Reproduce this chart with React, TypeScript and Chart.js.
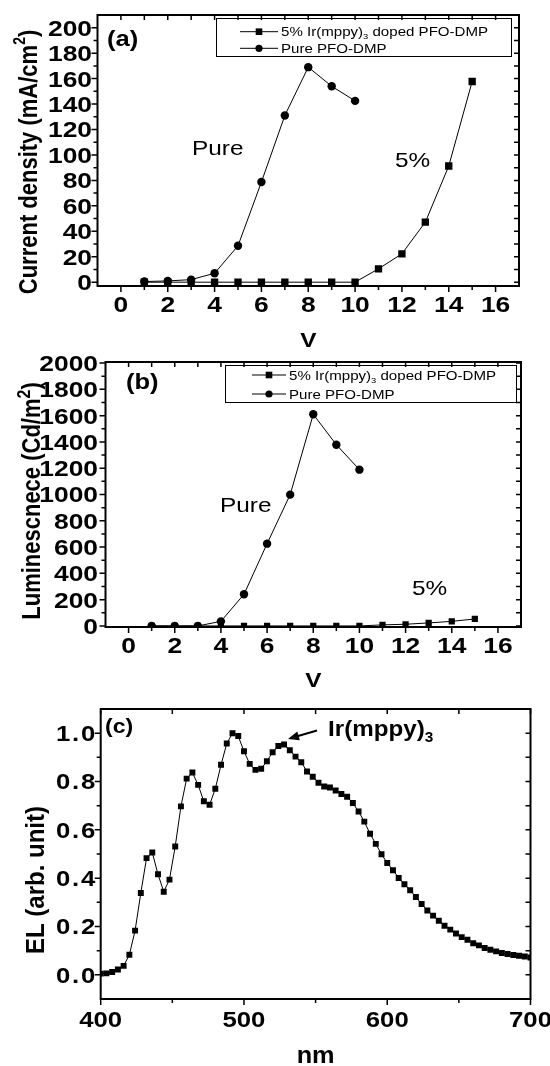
import { useEffect, useRef } from "react";
import { Chart, registerables } from "chart.js";

Chart.register(...registerables);

const FONT = "'Liberation Sans', Arial, Helvetica, sans-serif";

// ---------- data ----------
const dopedVoltage = [1, 2, 3, 4, 5, 6, 7, 8, 9, 10, 11, 12, 13, 14, 15];
const pureVoltage = [1, 2, 3, 4, 5, 6, 7, 8, 9, 10];
const dopedCurrent = [0, 0, 0, 0, 0, 0, 0, 0, 0, 0, 10.5, 22.3, 47.2, 91.3, 157.7];
const pureCurrent = [0.5, 1, 2, 7, 28.6, 78.7, 131, 169, 154, 142.5];
const dopedLuminance = [0, 0, 0, 0, 0, 0, 0, 0, 0, 0, 8, 13, 23, 35, 53];
const pureLuminance = [0, 0, 0, 35, 241, 626, 999, 1610, 1379, 1189];

const wavelength = [
  400, 404, 408, 412, 416, 420, 424, 428, 432, 436, 440, 444, 448, 452, 456, 460,
  464, 468, 472, 476, 480, 484, 488, 492, 496, 500, 504, 508, 512, 516, 520, 524,
  528, 532, 536, 540, 544, 548, 552, 556, 560, 564, 568, 572, 576, 580, 584, 588,
  592, 596, 600, 604, 608, 612, 616, 620, 624, 628, 632, 636, 640, 644, 648, 652,
  656, 660, 664, 668, 672, 676, 680, 684, 688, 692, 696, 700,
];
const elIntensity = [
  0.005, 0.006, 0.012, 0.022, 0.037, 0.083, 0.183, 0.339, 0.483, 0.506, 0.416, 0.344,
  0.394, 0.531, 0.697, 0.812, 0.837, 0.786, 0.718, 0.704, 0.77, 0.869, 0.957, 1.0,
  0.988, 0.925, 0.873, 0.848, 0.853, 0.884, 0.921, 0.947, 0.953, 0.929, 0.903, 0.88,
  0.841, 0.82, 0.795, 0.779, 0.775, 0.763, 0.748, 0.737, 0.711, 0.676, 0.634, 0.584,
  0.542, 0.499, 0.463, 0.433, 0.401, 0.375, 0.35, 0.322, 0.293, 0.266, 0.245, 0.224,
  0.203, 0.187, 0.171, 0.156, 0.145, 0.131, 0.122, 0.111, 0.104, 0.097, 0.09, 0.086,
  0.082, 0.079, 0.076, 0.072,
];

// ---------- ticks ----------
const voltMajor = [0, 2, 4, 6, 8, 10, 12, 14, 16];
const voltMinor = [1, 3, 5, 7, 9, 11, 13, 15];
const currentMajor = [0, 20, 40, 60, 80, 100, 120, 140, 160, 180, 200];
const currentMinor = [10, 30, 50, 70, 90, 110, 130, 150, 170, 190];
const lumMajor = [0, 200, 400, 600, 800, 1000, 1200, 1400, 1600, 1800, 2000];
const lumMinor = [100, 300, 500, 700, 900, 1100, 1300, 1500, 1700, 1900];
const nmMajor = [400, 500, 600, 700];
const nmMinor = [450, 550, 650];
const elMajor = [0, 0.2, 0.4, 0.6, 0.8, 1.0];
const elMinor = [0.1, 0.3, 0.5, 0.7, 0.9];

// ---------- text ----------
const legendDopedMain = "5% Ir(mppy)";
const legendDopedSub = "3";
const legendDopedTail = " doped PFO-DMP";
const legendPure = "Pure PFO-DMP";

type Seg = { t: string; size: number; bold?: boolean; dy?: number };

const fontOf = (size: number, bold?: boolean) => `${bold ? "bold " : ""}${size}px ${FONT}`;

function richWidth(ctx: CanvasRenderingContext2D, segs: Seg[]) {
  let w = 0;
  for (const s of segs) {
    ctx.font = fontOf(s.size, s.bold);
    w += ctx.measureText(s.t).width;
  }
  return w;
}

// draws text horizontally stretched by sx, alphabetic baseline at y
function drawText(
  ctx: CanvasRenderingContext2D,
  x: number,
  y: number,
  segs: Seg[],
  align: "left" | "center" | "right" = "left",
  sx = 1,
  spacing = 0
) {
  ctx.save();
  (ctx as any).letterSpacing = `${spacing}px`;
  ctx.translate(x, y);
  ctx.scale(sx, 1);
  ctx.textBaseline = "alphabetic";
  ctx.textAlign = "left";
  const w = richWidth(ctx, segs);
  let cx = align === "left" ? 0 : align === "center" ? -w / 2 : -w;
  for (const s of segs) {
    ctx.font = fontOf(s.size, s.bold);
    ctx.fillText(s.t, cx, s.dy || 0);
    cx += ctx.measureText(s.t).width;
  }
  ctx.restore();
}

function drawRotated(ctx: CanvasRenderingContext2D, bx: number, cy: number, segs: Seg[], sy = 1) {
  ctx.save();
  ctx.translate(bx, cy);
  ctx.rotate(-Math.PI / 2);
  ctx.scale(1, sy);
  drawText(ctx, 0, 0, segs, "center");
  ctx.restore();
}

const isIn = (arr: number[], v: number) => arr.some((m) => Math.abs(m - v) < 1e-9);

type Frame = { l: number; r: number; t: number; b: number };

type PanelSpec = {
  top: number;
  height: number;
  frame: Frame;
  xMin: number;
  xMax: number;
  yMin: number;
  yMax: number;
  xMajor: number[];
  xMinor: number[];
  yMajor: number[];
  yMinor: number[];
  xFmt: (v: number) => string;
  yFmt: (v: number) => string;
  xLabelBase: number; // page y of x tick label baseline
  yLabelRight: number; // page x of y tick label right edge
  tickStretch: number;
  ySpacing: number;
  datasets: any[];
  decorate: (ctx: CanvasRenderingContext2D, chart: any, off: number) => void;
};

function drawLegend(
  ctx: CanvasRenderingContext2D,
  off: number,
  box: Frame,
  rows: { y: number; x1: number; x2: number; marker: "rect" | "circle"; segs: Seg[] }[],
  sx: number
) {
  ctx.save();
  ctx.strokeStyle = "#000";
  ctx.fillStyle = "#000";
  ctx.lineWidth = 1;
  ctx.strokeRect(box.l + 0.5, box.t - off + 0.5, box.r - box.l, box.b - box.t);
  for (const row of rows) {
    const y = row.y - off;
    ctx.beginPath();
    ctx.moveTo(row.x1, y);
    ctx.lineTo(row.x2, y);
    ctx.stroke();
    const cx = (row.x1 + row.x2) / 2;
    if (row.marker === "rect") {
      ctx.fillRect(cx - 3.3, y - 3.3, 6.6, 6.6);
    } else {
      ctx.beginPath();
      ctx.arc(cx, y, 3.6, 0, Math.PI * 2);
      ctx.fill();
    }
    drawText(ctx, row.x2 + 3, y + 4.6, row.segs, "left", sx);
  }
  ctx.restore();
}

function makeChart(canvas: HTMLCanvasElement, spec: PanelSpec) {
  const { frame, top, height } = spec;
  const decor = {
    id: "decor",
    afterDraw(chart: any) {
      const ctx: CanvasRenderingContext2D = chart.ctx;
      const a = chart.chartArea;
      const xs = chart.scales.x;
      const ys = chart.scales.y;
      ctx.save();
      ctx.strokeStyle = "#000";
      ctx.fillStyle = "#000";
      ctx.lineWidth = 1.5;
      ctx.beginPath();
      for (const v of [...spec.xMajor, ...spec.xMinor]) {
        const p = xs.getPixelForValue(v);
        const out = isIn(spec.xMajor, v) ? 6 : 4;
        ctx.moveTo(p, a.bottom);
        ctx.lineTo(p, a.bottom + out);
        ctx.moveTo(p, a.top);
        ctx.lineTo(p, a.top + 5);
      }
      for (const v of [...spec.yMajor, ...spec.yMinor]) {
        const p = ys.getPixelForValue(v);
        const out = isIn(spec.yMajor, v) ? 6 : 4;
        ctx.moveTo(a.left, p);
        ctx.lineTo(a.left - out, p);
        ctx.moveTo(a.right, p);
        ctx.lineTo(a.right - 5, p);
      }
      ctx.stroke();
      ctx.lineWidth = 2;
      ctx.strokeRect(a.left, a.top, a.right - a.left, a.bottom - a.top);
      // tick labels
      for (const v of spec.xMajor) {
        const p = xs.getPixelForValue(v);
        drawText(ctx, p, spec.xLabelBase - top, [{ t: spec.xFmt(v), size: 22, bold: true }], "center", spec.tickStretch);
      }
      for (const v of spec.yMajor) {
        const p = ys.getPixelForValue(v);
        drawText(
          ctx,
          spec.yLabelRight,
          p + 7.9,
          [{ t: spec.yFmt(v), size: 22, bold: true }],
          "right",
          spec.tickStretch,
          spec.ySpacing
        );
      }
      spec.decorate(ctx, chart, top);
      ctx.restore();
    },
  };

  return new Chart(canvas, {
    type: "line",
    data: { datasets: spec.datasets },
    options: {
      animation: false,
      responsive: false,
      maintainAspectRatio: false,
      layout: {
        padding: { left: 0, top: frame.t - top, right: 550 - frame.r, bottom: 0 },
      },
      plugins: { legend: { display: false }, tooltip: { enabled: false } },
      elements: { line: { tension: 0 } },
      scales: {
        x: {
          type: "linear",
          min: spec.xMin,
          max: spec.xMax,
          grid: { display: false },
          border: { display: false },
          ticks: { display: false },
          afterFit: (s: any) => {
            s.height = height - (frame.b - top);
            s.paddingLeft = 0;
            s.paddingRight = 0;
          },
        },
        y: {
          type: "linear",
          min: spec.yMin,
          max: spec.yMax,
          grid: { display: false },
          border: { display: false },
          ticks: { display: false },
          afterFit: (s: any) => {
            s.width = frame.l;
            s.paddingTop = 0;
            s.paddingBottom = 0;
          },
        },
      },
    } as any,
    plugins: [decor],
  });
}

const lineStyle = {
  borderColor: "#000",
  backgroundColor: "#000",
  borderWidth: 1,
  pointBorderWidth: 0,
  pointBackgroundColor: "#000",
  showLine: true,
  fill: false,
};

function pairs(xs: number[], ys: number[]) {
  return xs.map((x, i) => ({ x, y: ys[i] }));
}

const legendRowsSegs = (): Seg[][] => [
  [
    { t: legendDopedMain, size: 13 },
    { t: legendDopedSub, size: 8, dy: 3 },
    { t: legendDopedTail, size: 13 },
  ],
  [{ t: legendPure, size: 13 }],
];

const SAB = 1.16; // horizontal text stretch, panels (a)/(b)
const SC = 1.1; // horizontal text stretch, panel (c)

const panelA: PanelSpec = {
  top: 0,
  height: 350,
  frame: { l: 97.5, r: 519, t: 15, b: 286 },
  xMin: -1,
  xMax: 17,
  yMin: -3,
  yMax: 210,
  xMajor: voltMajor,
  xMinor: voltMinor,
  yMajor: currentMajor,
  yMinor: currentMinor,
  xFmt: (v) => String(v),
  yFmt: (v) => String(v),
  xLabelBase: 312,
  yLabelRight: 92,
  tickStretch: 1.2,
  ySpacing: 0,
  datasets: [
    { ...lineStyle, label: "5%", data: pairs(dopedVoltage, dopedCurrent), pointStyle: "rect", pointRadius: 5.2 },
    { ...lineStyle, label: "Pure", data: pairs(pureVoltage, pureCurrent), pointStyle: "circle", pointRadius: 4.2 },
  ],
  decorate: (ctx, chart, off) => {
    const a = chart.chartArea;
    const [r1, r2] = legendRowsSegs();
    drawLegend(
      ctx,
      off,
      { l: 216, r: 511, t: 18, b: 56 },
      [
        { y: 31.7, x1: 240, x2: 278, marker: "rect", segs: r1 },
        { y: 48.3, x1: 240, x2: 278, marker: "circle", segs: r2 },
      ],
      SAB
    );
    ctx.fillStyle = "#000";
    drawText(ctx, 107, 46 - off, [{ t: "(a)", size: 22, bold: true }], "left", SAB);
    drawText(ctx, 192, 155 - off, [{ t: "Pure", size: 21 }], "left", SAB);
    drawText(ctx, 395, 167 - off, [{ t: "5%", size: 21 }], "left", SAB);
    drawText(ctx, (a.left + a.right) / 2, 347 - off, [{ t: "V", size: 21, bold: true }], "center", SAB);
    drawRotated(
      ctx,
      37,
      162 - off,
      [
        { t: "Current density (mA/cm", size: 22, bold: true },
        { t: "2", size: 14, bold: true, dy: -10 },
        { t: ")", size: 22, bold: true },
      ],
      SAB
    );
  },
};

const panelB: PanelSpec = {
  top: 350,
  height: 340,
  frame: { l: 105.5, r: 521, t: 362, b: 627 },
  xMin: -1,
  xMax: 17,
  yMin: -8,
  yMax: 2008,
  xMajor: voltMajor,
  xMinor: voltMinor,
  yMajor: lumMajor,
  yMinor: lumMinor,
  xFmt: (v) => String(v),
  yFmt: (v) => String(v),
  xLabelBase: 653,
  yLabelRight: 98,
  tickStretch: 1.2,
  ySpacing: 0,
  datasets: [
    { ...lineStyle, label: "5%", data: pairs(dopedVoltage, dopedLuminance), pointStyle: "rect", pointRadius: 4.4 },
    { ...lineStyle, label: "Pure", data: pairs(pureVoltage, pureLuminance), pointStyle: "circle", pointRadius: 4.2 },
  ],
  decorate: (ctx, chart, off) => {
    const a = chart.chartArea;
    const [r1, r2] = legendRowsSegs();
    drawLegend(
      ctx,
      off,
      { l: 225, r: 516, t: 365, b: 402 },
      [
        { y: 375, x1: 252, x2: 286, marker: "rect", segs: r1 },
        { y: 394, x1: 252, x2: 286, marker: "circle", segs: r2 },
      ],
      SAB
    );
    ctx.fillStyle = "#000";
    drawText(ctx, 126, 389 - off, [{ t: "(b)", size: 22, bold: true }], "left", SAB);
    drawText(ctx, 220, 512 - off, [{ t: "Pure", size: 21 }], "left", SAB);
    drawText(ctx, 412, 595 - off, [{ t: "5%", size: 21 }], "left", SAB);
    drawText(ctx, (a.left + a.right) / 2, 687 - off, [{ t: "V", size: 21, bold: true }], "center", SAB);
    drawRotated(
      ctx,
      40,
      501 - off,
      [
        { t: "Luminescnece (Cd/m", size: 22, bold: true },
        { t: "2", size: 16, bold: true, dy: -9 },
        { t: ")", size: 22, bold: true },
      ],
      SAB
    );
  },
};

const panelC: PanelSpec = {
  top: 690,
  height: 376,
  frame: { l: 100.7, r: 530.5, t: 709, b: 999 },
  xMin: 400,
  xMax: 700,
  yMin: -0.1,
  yMax: 1.1,
  xMajor: nmMajor,
  xMinor: nmMinor,
  yMajor: elMajor,
  yMinor: elMinor,
  xFmt: (v) => String(v),
  yFmt: (v) => v.toFixed(1),
  xLabelBase: 1027,
  yLabelRight: 97,
  tickStretch: 1.17,
  ySpacing: 1.5,
  datasets: [
    { ...lineStyle, label: "EL", data: pairs(wavelength, elIntensity), pointStyle: "rect", pointRadius: 4.2 },
  ],
  decorate: (ctx, chart, off) => {
    const a = chart.chartArea;
    ctx.fillStyle = "#000";
    drawText(ctx, 105, 733 - off, [{ t: "(c)", size: 21, bold: true }], "left", SC);
    drawText(
      ctx,
      328,
      736 - off,
      [
        { t: "Ir(mppy)", size: 22, bold: true },
        { t: "3", size: 14, bold: true, dy: 6 },
      ],
      "left",
      SC
    );
    // arrow
    const x1 = 317, y1 = 730.5 - off, x2 = 288, y2 = 739 - off;
    const ang = Math.atan2(y2 - y1, x2 - x1);
    ctx.strokeStyle = "#000";
    ctx.lineWidth = 2;
    ctx.beginPath();
    ctx.moveTo(x1, y1);
    ctx.lineTo(x2 - Math.cos(ang) * 6, y2 - Math.sin(ang) * 6);
    ctx.stroke();
    ctx.beginPath();
    ctx.moveTo(x2, y2);
    ctx.lineTo(x2 - Math.cos(ang) * 11 - Math.sin(ang) * 4.5, y2 - Math.sin(ang) * 11 + Math.cos(ang) * 4.5);
    ctx.lineTo(x2 - Math.cos(ang) * 11 + Math.sin(ang) * 4.5, y2 - Math.sin(ang) * 11 - Math.cos(ang) * 4.5);
    ctx.closePath();
    ctx.fill();
    drawText(ctx, (a.left + a.right) / 2, 1063 - off, [{ t: "nm", size: 23, bold: true }], "center", SC);
    drawRotated(ctx, 44, 880 - off, [{ t: "EL (arb. unit)", size: 24, bold: true }], SC);
  },
};

const panels = [panelA, panelB, panelC];

export default function App() {
  const refs = useRef<(HTMLCanvasElement | null)[]>([]);
  useEffect(() => {
    document.body.style.margin = "0";
    const charts = panels.map((p, i) => makeChart(refs.current[i] as HTMLCanvasElement, p));
    return () => charts.forEach((c) => c.destroy());
  }, []);
  return (
    <div style={{ position: "relative", width: 550, height: 1066, background: "#fff", overflow: "hidden" }}>
      {panels.map((p, i) => (
        <canvas
          key={i}
          ref={(el) => {
            refs.current[i] = el;
          }}
          width={550}
          height={p.height}
          style={{ position: "absolute", left: 0, top: p.top, width: 550, height: p.height }}
        />
      ))}
    </div>
  );
}
